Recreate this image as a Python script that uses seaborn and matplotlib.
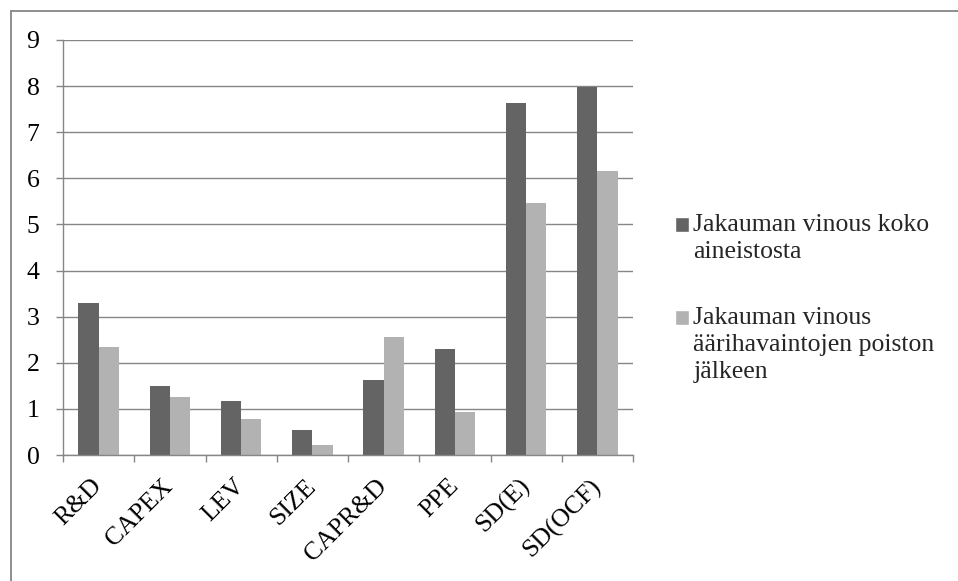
import matplotlib
matplotlib.use('Agg')
import matplotlib.pyplot as plt
from matplotlib.lines import Line2D
from matplotlib.patches import Patch, Rectangle
from matplotlib.legend_handler import HandlerPatch
from matplotlib.ticker import FixedLocator
import seaborn as sns
import pandas as pd

# arvot luettu kuvasta
muuttujat = ['R&D', 'CAPEX', 'LEV', 'SIZE', 'CAPR&D', 'PPE', 'SD(E)', 'SD(OCF)']
koko_aineisto = [3.30, 1.50, 1.17, 0.54, 1.63, 2.29, 7.64, 7.97]
poiston_jalkeen = [2.35, 1.26, 0.78, 0.22, 2.56, 0.93, 5.47, 6.15]
sarjat = ['Jakauman vinous koko\naineistosta',
          'Jakauman vinous\näärihavaintojen poiston\njälkeen']
y_ticks = list(range(0, 10))

df = pd.DataFrame({
    'muuttuja': muuttujat * 2,
    'vinous': koko_aineisto + poiston_jalkeen,
    'sarja': [sarjat[0]] * len(muuttujat) + [sarjat[1]] * len(muuttujat),
})

sns.set_theme(style='white')
plt.rcParams['font.family'] = ['Liberation Serif', 'DejaVu Serif']

harmaa = '#868686'
tumma = '#646464'
vaalea = '#b2b2b2'
fs = 18.5
rivivali = 1.3

fig = plt.figure(figsize=(9.58, 5.81), dpi=100)
ax = fig.add_axes([63 / 958, 126 / 581, 570 / 958, 415 / 581])

sns.barplot(data=df, x='muuttuja', y='vinous', hue='sarja',
            palette=[tumma, vaalea], width=0.57, saturation=1,
            linewidth=0, legend=False, ax=ax)

ax.set_xlim(-0.5, 7.5)
ax.set_ylim(0, 9)
ax.set_yticks(y_ticks)
ax.set_xlabel('')
ax.set_ylabel('')
ax.yaxis.grid(True, color=harmaa, lw=1.0)
ax.set_axisbelow(True)

for s in ['top', 'right']:
    ax.spines[s].set_visible(False)
for s in ['left', 'bottom']:
    ax.spines[s].set_color(harmaa)
    ax.spines[s].set_linewidth(1.0)

ax.tick_params(axis='y', left=True, length=5, width=1, color=harmaa,
               direction='out', pad=12, labelsize=fs, labelcolor='black')
ax.tick_params(axis='x', which='major', bottom=True, length=0, pad=20,
               labelsize=fs, labelcolor='black')
ax.xaxis.set_minor_locator(FixedLocator([i - 0.5 for i in range(len(muuttujat) + 1)]))
ax.tick_params(axis='x', which='minor', bottom=True, length=5, width=1,
               color=harmaa, direction='out')
for lbl in ax.get_xticklabels():
    lbl.set_rotation(45)
    lbl.set_ha('right')
    lbl.set_va('center')
    lbl.set_rotation_mode('anchor')


# legendan neliö ensimmäisen rivin kohdalle kuten Excelissä
def nelio(legend, orig_handle, xdescent, ydescent, width, height, fontsize):
    rivit = orig_handle.get_label().count('\n')
    nosto = rivit * 0.5 * fontsize * rivivali * 0.8
    return Rectangle((-xdescent, -ydescent + nosto), width, height)


handles = [Patch(facecolor=tumma, label=sarjat[0]),
           Patch(facecolor=vaalea, label=sarjat[1])]
leg = fig.legend(handles=handles, labels=sarjat, loc='upper left',
                 bbox_to_anchor=(675 / 958, 1 - 214 / 581),
                 bbox_transform=fig.transFigure, frameon=False, fontsize=fs,
                 borderpad=0, borderaxespad=0, handlelength=0.56,
                 handleheight=0.56, handletextpad=0.15, labelspacing=1.7,
                 handler_map={Patch: HandlerPatch(patch_func=nelio)})
for t in leg.get_texts():
    t.set_linespacing(rivivali)

# kaavion reunaviiva
fig.add_artist(Line2D([10.5 / 958, 1], [1 - 10.5 / 581] * 2,
                      transform=fig.transFigure, color=harmaa, lw=1.3))
fig.add_artist(Line2D([10.5 / 958] * 2, [0, 1 - 10.5 / 581],
                      transform=fig.transFigure, color=harmaa, lw=1.3))

fig.savefig('out.png', dpi=100)
